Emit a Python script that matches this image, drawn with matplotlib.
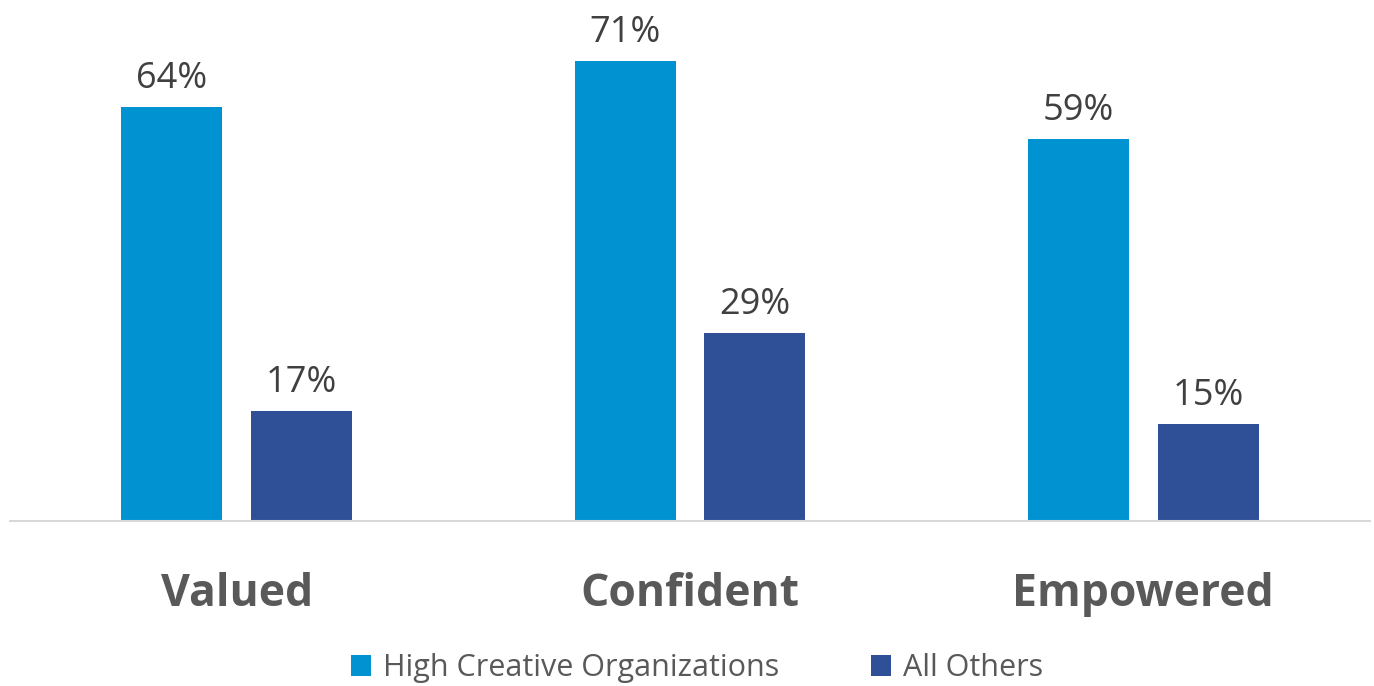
import numpy as np
import matplotlib.pyplot as plt

categories = ["Valued", "Confident", "Empowered"]
series_names = ["High Creative Organizations", "All Others"]
high_creative = [64, 71, 59]
all_others = [17, 29, 15]

colors = ["#0092D1", "#2F5097"]

plt.rcParams['font.family'] = ['Open Sans', 'DejaVu Sans']

fig = plt.figure(figsize=(13.74, 6.86), dpi=100)
ax = fig.add_axes([10 / 1374, 1 - 521 / 686, 1360 / 1374, 518 / 686])

x = np.arange(len(categories))
width = 0.223
offset = 0.143

for vals, dx, color, name in [(high_creative, -offset, colors[0], series_names[0]),
                              (all_others, offset, colors[1], series_names[1])]:
    bars = ax.bar(x + dx, vals, width, color=color, label=name, zorder=2)
    for b, v in zip(bars, vals):
        ax.text(b.get_x() + b.get_width() / 2, v + 2.9, f"{v}%",
                ha="center", va="baseline", fontsize=26, color="#404040")

ax.set_xlim(-0.5, 2.5)
ax.set_ylim(0, 80)
ax.set_yticks([])
ax.set_xticks([])
for side in ["top", "right", "left"]:
    ax.spines[side].set_visible(False)
ax.spines["bottom"].set_color("#D9D9D9")
ax.spines["bottom"].set_linewidth(1.5)

for xi, cat in zip(x, categories):
    ax.text(xi, -13.1, cat, ha="center", va="baseline", fontsize=32,
            fontweight="bold", color="#595959")

ax.legend(loc="center", bbox_to_anchor=(0.505, -0.284), ncol=2, frameon=False,
          fontsize=22, handlelength=0.65, handleheight=0.65, handletextpad=0.4,
          columnspacing=3.0, labelcolor="#595959")

fig.savefig("out.png", dpi=100)
